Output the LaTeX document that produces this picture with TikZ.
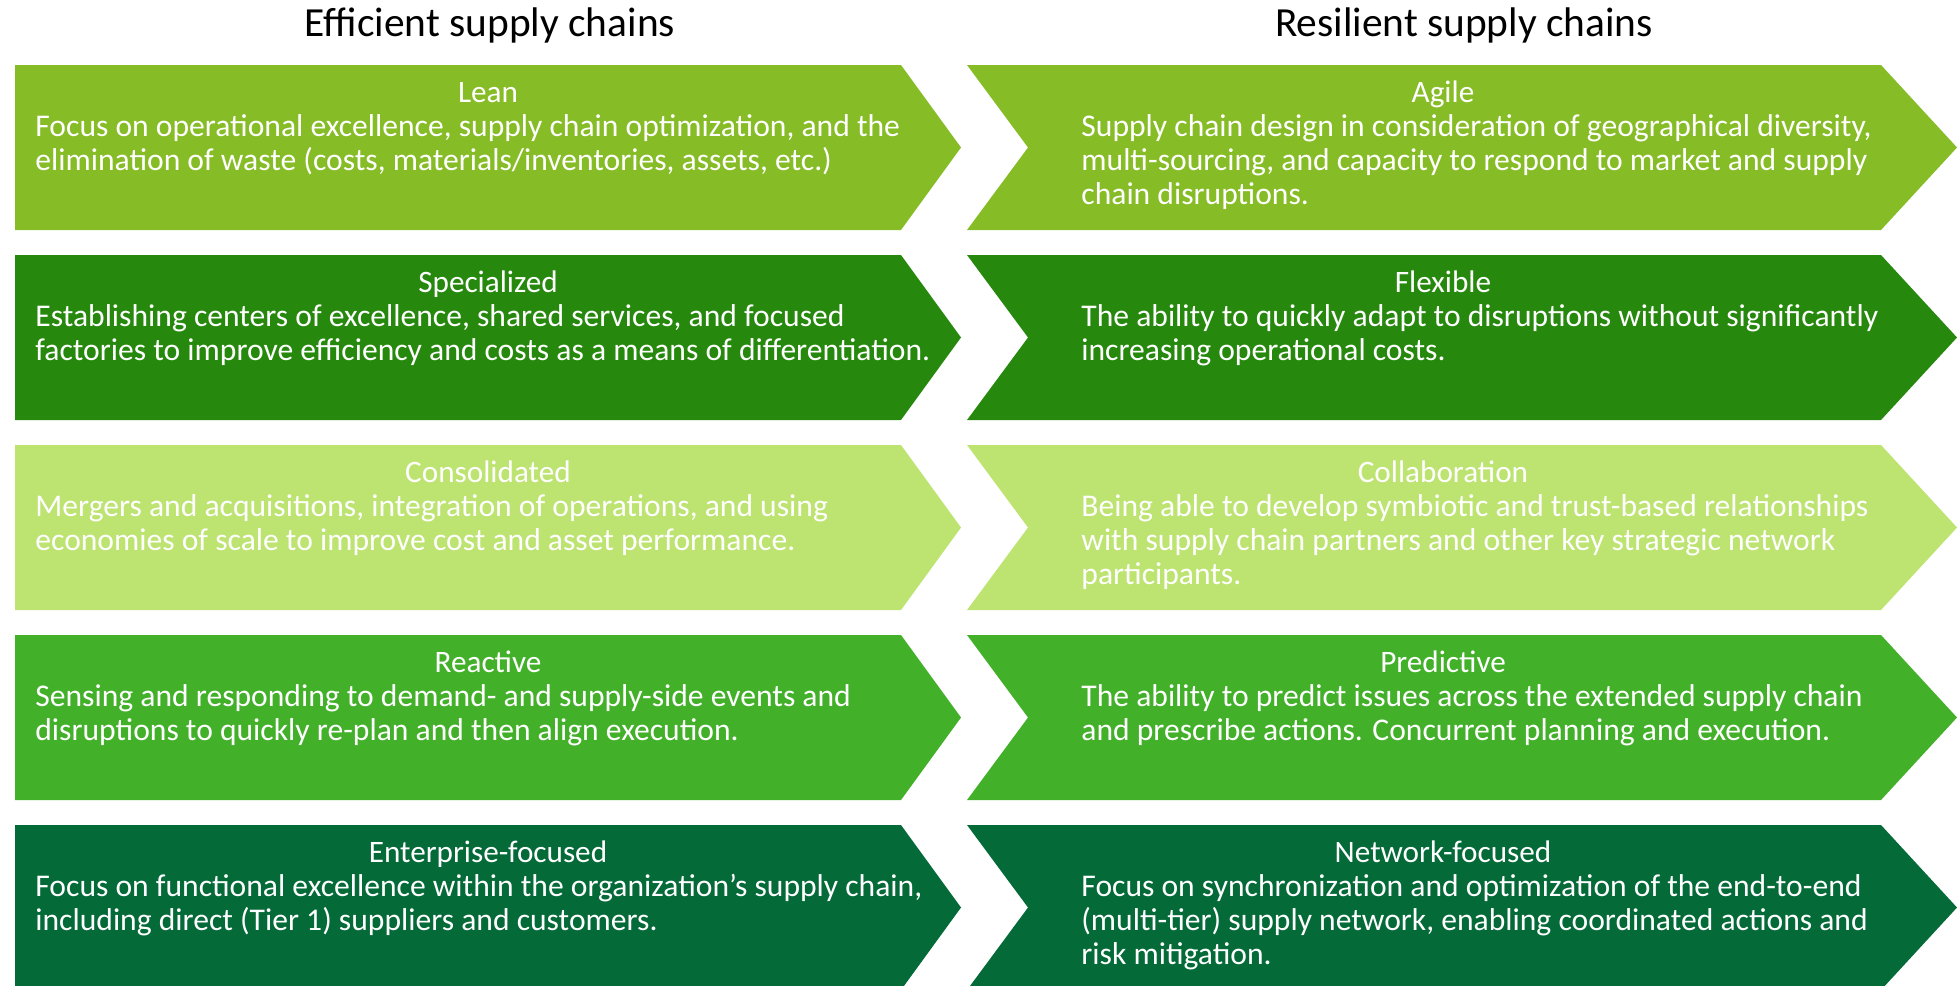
\documentclass[tikz,border=0pt]{standalone}
\usepackage{fontspec}
\setmainfont{Carlito}
\usepackage{tikz}
\usetikzlibrary{positioning}

\definecolor{leangreen}{HTML}{86BC25}
\definecolor{specgreen}{HTML}{26890D}
\definecolor{consgreen}{HTML}{BDE371}
\definecolor{reactgreen}{HTML}{43B02A}
\definecolor{entgreen}{HTML}{046A38}

\begin{document}
\begin{tikzpicture}[x=0.5pt,y=-0.5pt]
	\tikzstyle{title}=[font=\fontsize{20.7}{24}\selectfont, inner sep=0pt]
	\tikzstyle{heading}=[text=white, font=\fontsize{15.6}{17}\selectfont, inner sep=0pt, anchor=base]
	\tikzstyle{body}=[text=white, font=\fontsize{15.8}{17.1}\selectfont, align=left, anchor=north west, inner sep=0pt]

	\useasboundingbox (0,0) rectangle (1957,985);
	\clip (0,0) rectangle (1957,985);

	% the two column titles
	\node [title] (efftitle) at (490,25) {Efficient supply chains};
	\node [title] (restitle) at (1464,25) {Resilient supply chains};

	% chevrons, one row each
	\foreach \col [count=\i from 0] in {leangreen,specgreen,consgreen,reactgreen,entgreen} {
		\fill [\col] (15,{65+190*\i}) -- ++(886,0) -- ++(60,82.5) -- ++(-60,82.5) -- ++(-886,0) -- cycle;
		\fill [\col] (967,{65+190*\i}) -- ++(914,0) -- ++(76,82.5) -- ++(-76,82.5) -- ++(-914,0) -- ++(61,-82.5) -- cycle;
	}

	% row 1
	\node [heading] (lean) at (488,102) {Lean};
	\node [body] (leantext) at (35,114) {Focus on operational excellence, supply chain optimization, and the\\elimination of waste (costs, materials/inventories, assets, etc.)};
	\node [heading] (agile) at (1443,102) {Agile};
	\node [body] (agiletext) at (1081,114) {Supply chain design in consideration of geographical diversity,\\multi-sourcing, and capacity to respond to market and supply\\chain disruptions.};

	% row 2
	\node [heading] (spec) at (488,292) {Specialized};
	\node [body] (spectext) at (35,304) {Establishing centers of excellence, shared services, and focused\\factories to improve efficiency and costs as a means of differentiation.};
	\node [heading] (flex) at (1443,292) {Flexible};
	\node [body] (flextext) at (1081,304) {The ability to quickly adapt to disruptions without significantly\\increasing operational costs.};

	% row 3
	\node [heading] (cons) at (488,482) {Consolidated};
	\node [body] (constext) at (35,494) {Mergers and acquisitions, integration of operations, and using\\economies of scale to improve cost and asset performance.};
	\node [heading] (collab) at (1443,482) {Collaboration};
	\node [body] (collabtext) at (1081,494) {Being able to develop symbiotic and trust-based relationships\\with supply chain partners and other key strategic network\\participants.};

	% row 4
	\node [heading] (react) at (488,672) {Reactive};
	\node [body] (reacttext) at (35,684) {Sensing and responding to demand- and supply-side events and\\disruptions to quickly re-plan and then align execution.};
	\node [heading] (pred) at (1443,672) {Predictive};
	\node [body] (predtext) at (1081,684) {The ability to predict issues across the extended supply chain\\and prescribe actions. Concurrent planning and execution.};

	% row 5
	\node [heading] (ent) at (488,862) {Enterprise-focused};
	\node [body] (enttext) at (35,874) {Focus on functional excellence within the organization’s supply chain,\\including direct (Tier 1) suppliers and customers.};
	\node [heading] (net) at (1443,862) {Network-focused};
	\node [body] (nettext) at (1081,874) {Focus on synchronization and optimization of the end-to-end\\(multi-tier) supply network, enabling coordinated actions and\\risk mitigation.};
\end{tikzpicture}
\end{document}
